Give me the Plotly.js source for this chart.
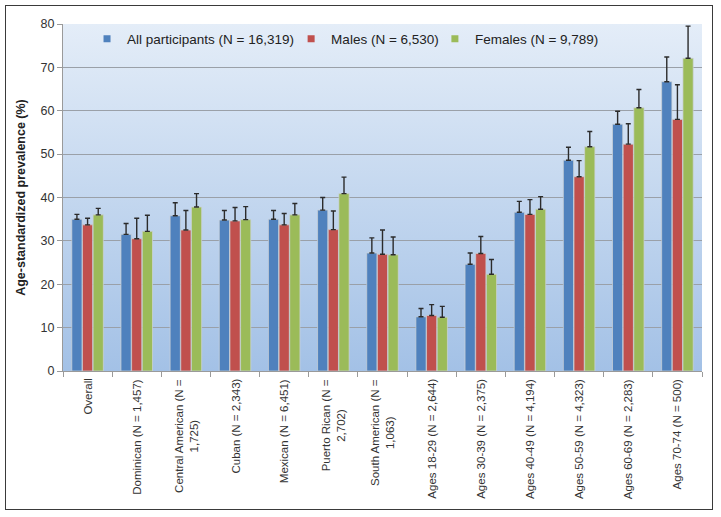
<!DOCTYPE html>
<html>
<head>
<meta charset="utf-8">
<script src="https://cdn.plot.ly/plotly-3.0.1.min.js"></script>
<style>
  body { margin: 0; background: #fff; }
  #wrap { position: relative; width: 721px; height: 517px; }
  #chart { width: 721px; height: 517px; }
  #frame { position: absolute; left: 5px; top: 5px; width: 706px; height: 503px;
           border: 1.5px solid #3a3a3a; pointer-events: none; }
</style>
</head>
<body>
<div id="wrap">
  <div id="chart"></div>
  <div id="frame"></div>
</div>
<script>
// categories and their wrapped axis labels
const categories = ['Overall', 'Dominican', 'Central American', 'Cuban', 'Mexican',
  'Puerto Rican', 'South American', 'Ages 18-29', 'Ages 30-39', 'Ages 40-49',
  'Ages 50-59', 'Ages 60-69', 'Ages 70-74'];
const tickLabels = ['Overall', 'Dominican (N = 1,457)', 'Central American (N =<br>1,725)',
  'Cuban (N = 2,343)', 'Mexican (N = 6,451)', 'Puerto Rican (N =<br>2,702)',
  'South American (N =<br>1,063)', 'Ages 18-29 (N = 2,644)', 'Ages 30-39 (N = 2,375)',
  'Ages 40-49 (N = 4,194)', 'Ages 50-59 (N = 4,323)', 'Ages 60-69 (N = 2,283)',
  'Ages 70-74 (N = 500)'];

const seriesNames = ['All participants (N = 16,319)', 'Males (N = 6,530)', 'Females (N = 9,789)'];

// prevalence (%) and upper confidence limit
const allVals  = [35.0, 31.5, 35.8, 34.8, 35.0, 37.1, 27.2, 12.5, 24.6, 36.6, 48.6, 56.9, 66.7];
const allUpper = [36.1, 34.0, 38.8, 37.0, 37.0, 40.0, 30.7, 14.4, 27.2, 39.1, 51.6, 59.9, 72.4];
const maleVals  = [33.7, 30.5, 32.5, 34.6, 33.7, 32.6, 26.9, 12.8, 27.1, 36.1, 44.8, 52.3, 58.0];
const maleUpper = [35.2, 35.2, 37.0, 37.7, 36.3, 36.9, 32.5, 15.3, 31.0, 39.5, 48.5, 57.0, 66.0];
const femVals  = [36.0, 32.2, 37.8, 34.9, 36.0, 40.9, 26.8, 12.4, 22.3, 37.3, 51.7, 60.7, 72.1];
const femUpper = [37.5, 35.9, 40.9, 37.9, 38.6, 44.7, 30.9, 14.9, 25.7, 40.2, 55.2, 64.9, 79.5];

const colors = ['#4f81bd', '#c0504d', '#9bbb59'];
const FONT = '"Liberation Sans", Arial, sans-serif';

var makeBar = (vals, upper, i) => ({
    type: 'bar',
    x: categories,
    y: vals,
    name: seriesNames[i],
    showlegend: false,
    marker: {color: colors[i], line: {color: 'rgba(205,210,215,0.9)', width: 0.8}},
    error_y: {
        type: 'data', symmetric: false,
        array: upper.map((u, k) => +(u - vals[k]).toFixed(2)),
        arrayminus: vals.map(() => 0),
        color: '#2b2b2b', thickness: 1.4, width: 2.5
    },
    hoverinfo: 'x+y'
});

// legend-only marker traces (small squares like the original)
var makeKey = (i) => ({
    type: 'scatter', mode: 'markers',
    x: [null], y: [null],
    name: seriesNames[i],
    legend: i === 0 ? 'legend' : 'legend' + (i + 1),
    marker: {symbol: 'square', size: 7, color: colors[i]}
});

let traces = [
    makeBar(allVals, allUpper, 0),
    makeBar(maleVals, maleUpper, 1),
    makeBar(femVals, femUpper, 2),
    makeKey(0), makeKey(1), makeKey(2)
];

const grad = "<svg xmlns='http://www.w3.org/2000/svg' width='100' height='100' preserveAspectRatio='none'>" +
    "<defs><linearGradient id='g' x1='0' y1='0' x2='0' y2='1'>" +
    "<stop offset='0' stop-color='#e4edf8'/><stop offset='1' stop-color='#a3c1e6'/>" +
    "</linearGradient></defs><rect width='100' height='100' fill='url(#g)'/></svg>";

const legendBase = {
    orientation: 'h', yanchor: 'middle', y: 0.957, xanchor: 'left',
    bgcolor: 'rgba(0,0,0,0)', borderwidth: 0,
    font: {family: FONT, size: 13.5, color: '#222'}
};

let labelNotes = categories.map((c, i) => ({
    x: c, xref: 'x', y: 0, yref: 'paper',
    yanchor: 'top', xanchor: 'center', yshift: -6,
    text: tickLabels[i], textangle: -90, align: 'center', showarrow: false,
    font: {family: FONT, size: 11.5, color: '#333'}
}));

let layout = {
    width: 721, height: 517,
    margin: {l: 63, r: 19, t: 24, b: 146},
    paper_bgcolor: '#fff',
    plot_bgcolor: 'rgba(0,0,0,0)',
    barmode: 'group', bargap: 0.35, bargroupgap: 0.04,
    font: {family: FONT, color: '#333'},
    images: [{
        source: 'data:image/svg+xml;charset=utf-8,' + encodeURIComponent(grad),
        xref: 'paper', yref: 'paper', x: 0, y: 1, sizex: 1, sizey: 1,
        xanchor: 'left', yanchor: 'top', sizing: 'stretch', layer: 'below'
    }],
    xaxis: {
        type: 'category', showticklabels: false,
        showline: true, linecolor: '#9a9a9a', linewidth: 1,
        ticks: 'outside', tickson: 'boundaries', ticklen: 5, tickcolor: '#9a9a9a',
        showgrid: false, zeroline: false
    },
    yaxis: {
        range: [0, 80], dtick: 10,
        showline: true, linecolor: '#9a9a9a', linewidth: 1,
        ticks: 'outside', ticklen: 5, tickcolor: '#9a9a9a',
        gridcolor: '#9aa0a8', gridwidth: 1.2, zeroline: false,
        tickfont: {family: FONT, size: 12.5, color: '#333'},
        title: {text: '<b>Age-standardized prevalence (%)</b>', standoff: 12,
                font: {family: FONT, size: 12.5, color: '#222'}}
    },
    legend:  Object.assign({}, legendBase, {x: 0.0376}),
    legend2: Object.assign({}, legendBase, {x: 0.357}),
    legend3: Object.assign({}, legendBase, {x: 0.582}),
    annotations: labelNotes
};

Plotly.newPlot('chart', traces, layout, {displayModeBar: false, staticPlot: true});
</script>
</body>
</html>
